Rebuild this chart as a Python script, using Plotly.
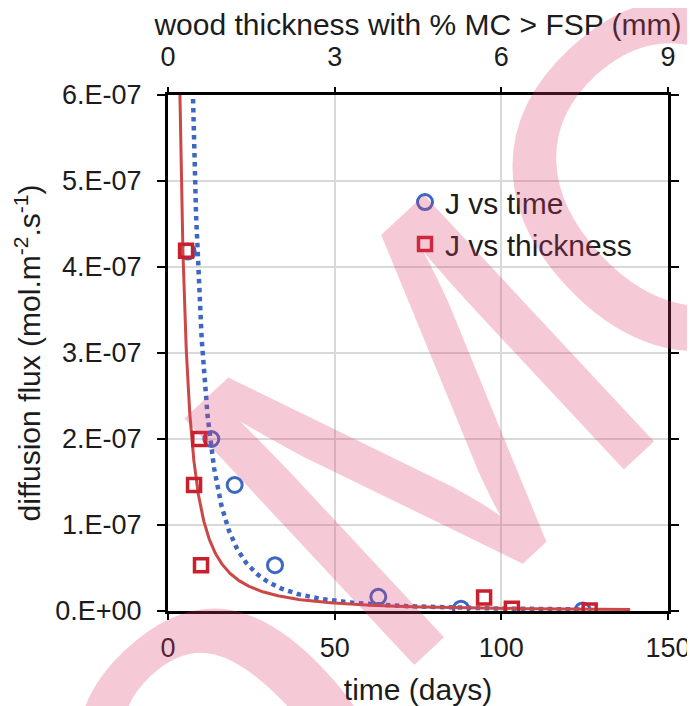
import numpy as np
import plotly.graph_objects as go

# ---- data ----
time_days = [5.9, 13.0, 20.0, 32.1, 63.1, 87.9, 124.4]
thickness_mm = [0.325, 0.563, 0.469, 0.594, 5.69, 6.19, 7.59]
flux_time = [4.18e-7, 2.0e-7, 1.465e-7, 0.533e-7, 0.165e-7, 0.027e-7, 0.007e-7]
flux_thick = [4.19e-7, 2.0e-7, 1.465e-7, 0.533e-7, 0.158e-7, 0.027e-7, 0.006e-7]

y_tickvals = [0, 1e-7, 2e-7, 3e-7, 4e-7, 5e-7, 6e-7]
y_ticktext = ["0.E+00", "1.E-07", "2.E-07", "3.E-07", "4.E-07", "5.E-07", "6.E-07"]
x_tickvals = [0, 50, 100, 150]
x2_tickvals = [0, 3, 6, 9]

# power-law trendlines (least squares in log-log space, like a spreadsheet power trendline)
bt, lat = np.polyfit(np.log(time_days), np.log(flux_time), 1)
bh, lah = np.polyfit(np.log(thickness_mm), np.log(flux_thick), 1)
t_fit = np.geomspace(5.0, max(time_days), 300)
h_fit = np.geomspace(0.15, max(thickness_mm) + 0.73, 300)
J_t_fit = np.exp(lat) * t_fit ** bt
J_h_fit = np.exp(lah) * h_fit ** bh

BLUE = "#3D67C2"
RED = "#C8202D"
RED_LINE = "#CD4747"
FONT = "Liberation Sans, Arial, sans-serif"
TXT = "#1c1c1c"

fig = go.Figure()
fig.add_trace(go.Scatter(x=t_fit, y=J_t_fit, mode="lines", showlegend=False,
                         line=dict(color=BLUE, width=4.5, dash="4.5px,4.5px"),
                         hoverinfo="skip"))
fig.add_trace(go.Scatter(x=h_fit, y=J_h_fit, xaxis="x2", mode="lines", showlegend=False,
                         line=dict(color=RED_LINE, width=3), hoverinfo="skip"))
fig.add_trace(go.Scatter(x=time_days, y=flux_time, mode="markers", name="J vs time",
                         legendrank=1,
                         marker=dict(symbol="circle-open", size=15, color=BLUE,
                                     line=dict(width=3, color=BLUE))))
fig.add_trace(go.Scatter(x=thickness_mm, y=flux_thick, xaxis="x2", mode="markers",
                         name="J vs thickness", legendrank=2,
                         marker=dict(symbol="square-open", size=13, color=RED,
                                     line=dict(width=3.5, color=RED))))

axis_common = dict(showline=True, linecolor="black", linewidth=3, ticks="outside",
                   tickwidth=1.5, tickcolor="black", automargin=False,
                   ticklabeloverflow="allow",
                   tickfont=dict(family=FONT, size=27, color=TXT), zeroline=False)

# the page body has an 8px margin, so the figure is sized to fit the 695x706 window
fig.update_layout(
    width=687, height=698,
    margin=dict(l=160, r=27, t=87, b=95),
    paper_bgcolor="white", plot_bgcolor="white",
    font=dict(family=FONT, color=TXT),
    showlegend=True,
    legend=dict(x=0.474, y=0.843, xanchor="left", yanchor="top",
                bgcolor="rgba(0,0,0,0)", font=dict(family=FONT, size=30, color=TXT),
                tracegroupgap=0, itemwidth=30),
    xaxis=dict(range=[0, 150], tickvals=x_tickvals, showgrid=True, gridcolor="#D9D9D9",
               gridwidth=1.5, ticklen=6, ticklabelstandoff=5,
               title=dict(text="time (days)", font=dict(family=FONT, size=30, color=TXT),
                          standoff=22),
               **axis_common),
    xaxis2=dict(range=[0, 9], tickvals=x2_tickvals, overlaying="x", side="top",
                showgrid=False, ticklen=5, ticklabelstandoff=10,
                title=dict(text="wood thickness with % MC > FSP (mm)",
                           font=dict(family=FONT, size=30, color=TXT), standoff=0),
                **axis_common),
    yaxis=dict(range=[0, 6e-7], tickvals=y_tickvals, ticktext=y_ticktext, showgrid=True,
               gridcolor="#D9D9D9", gridwidth=1.5, mirror="ticks", ticklen=8,
               ticklabelstandoff=10,
               title=dict(text="diffusion flux (mol.m<sup>-2</sup>.s<sup>-1</sup>)",
                          font=dict(family=FONT, size=30, color=TXT), standoff=6),
               **axis_common),
)

# pink watermark overlay
WM = "rgba(222,60,112,0.28)"
for ch, xp, yp, sz in [("M", 0.50, 0.353, 490), ("C", 1.02, 0.83, 490), ("o", 0.06, -0.229, 560)]:
    fig.add_annotation(text=ch, xref="paper", yref="paper", x=xp, y=yp,
                       xanchor="center", yanchor="middle", showarrow=False,
                       textangle=-43, font=dict(family=FONT, size=sz, color=WM))

fig.write_html("out.html")
